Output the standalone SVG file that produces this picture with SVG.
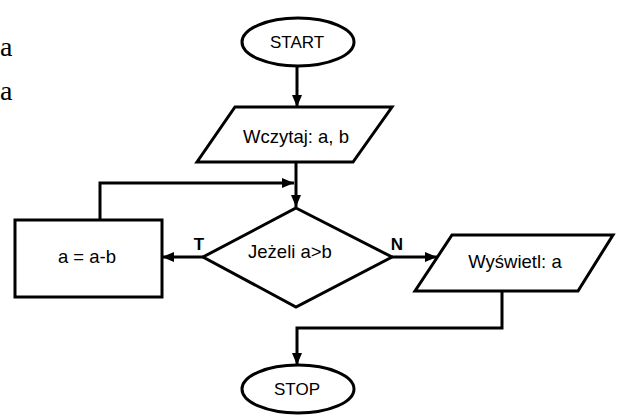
<svg xmlns="http://www.w3.org/2000/svg" width="618" height="417" viewBox="0 0 618 417">
<defs>
<style>
.s{fill:#fff;stroke:#000;stroke-width:3;stroke-linejoin:miter}
.c{fill:none;stroke:#000;stroke-width:3}
.t{font-family:"Liberation Sans",Arial,sans-serif;font-size:18.5px;fill:#000;text-anchor:middle}
.b{font-family:"Liberation Sans",Arial,sans-serif;font-size:17px;font-weight:bold;fill:#000;text-anchor:middle}
.m{font-family:"Liberation Serif","Times New Roman",serif;font-size:28px;fill:#000}
</style>
<marker id="ah" viewBox="0 0 12 10" refX="12" refY="5" markerWidth="12" markerHeight="10" markerUnits="userSpaceOnUse" orient="auto">
<path d="M0,0 L12,5 L0,10 Z" fill="#000"/>
</marker>
</defs>
<rect width="618" height="417" fill="#fff"/>
<text class="m" x="0" y="56">a</text>
<text class="m" x="0" y="100">a</text>
<g id="connectors">
<line class="c" x1="297" y1="66" x2="297" y2="107" marker-end="url(#ah)"/>
<line class="c" x1="296" y1="162" x2="296" y2="207" marker-end="url(#ah)"/>
<polyline class="c" points="100,220 100,183 294,183" marker-end="url(#ah)"/>
<line class="c" x1="203" y1="257" x2="162" y2="257" marker-end="url(#ah)"/>
<line class="c" x1="392" y1="257" x2="437" y2="257" marker-end="url(#ah)"/>
<polyline class="c" points="502,291 502,328 297,328 297,365" marker-end="url(#ah)"/>
</g>
<g id="start">
<ellipse class="s" cx="298" cy="42" rx="56" ry="24"/>
<text class="t" x="297" y="48" style="font-size:17px">START</text>
</g>
<g id="input">
<polygon class="s" points="235,107 392,107 353,162 197,162"/>
<text class="t" x="296" y="143">Wczytaj: a, b</text>
</g>
<g id="decision">
<polygon class="s" points="296,208 392,257 296,307 203,257"/>
<text class="t" x="290" y="258">Jeżeli a&gt;b</text>
<text class="b" x="199" y="250">T</text>
<text class="b" x="397" y="250">N</text>
</g>
<g id="assign">
<rect class="s" x="15" y="220" width="147" height="77"/>
<text class="t" x="87" y="263">a = a-b</text>
</g>
<g id="output">
<polygon class="s" points="452,235 613,235 578,291 415,291"/>
<text class="t" x="515" y="268">Wyświetl: a</text>
</g>
<g id="stop">
<ellipse class="s" cx="298" cy="389" rx="56" ry="24"/>
<text class="t" x="297" y="395" style="font-size:17px">STOP</text>
</g>
</svg>
